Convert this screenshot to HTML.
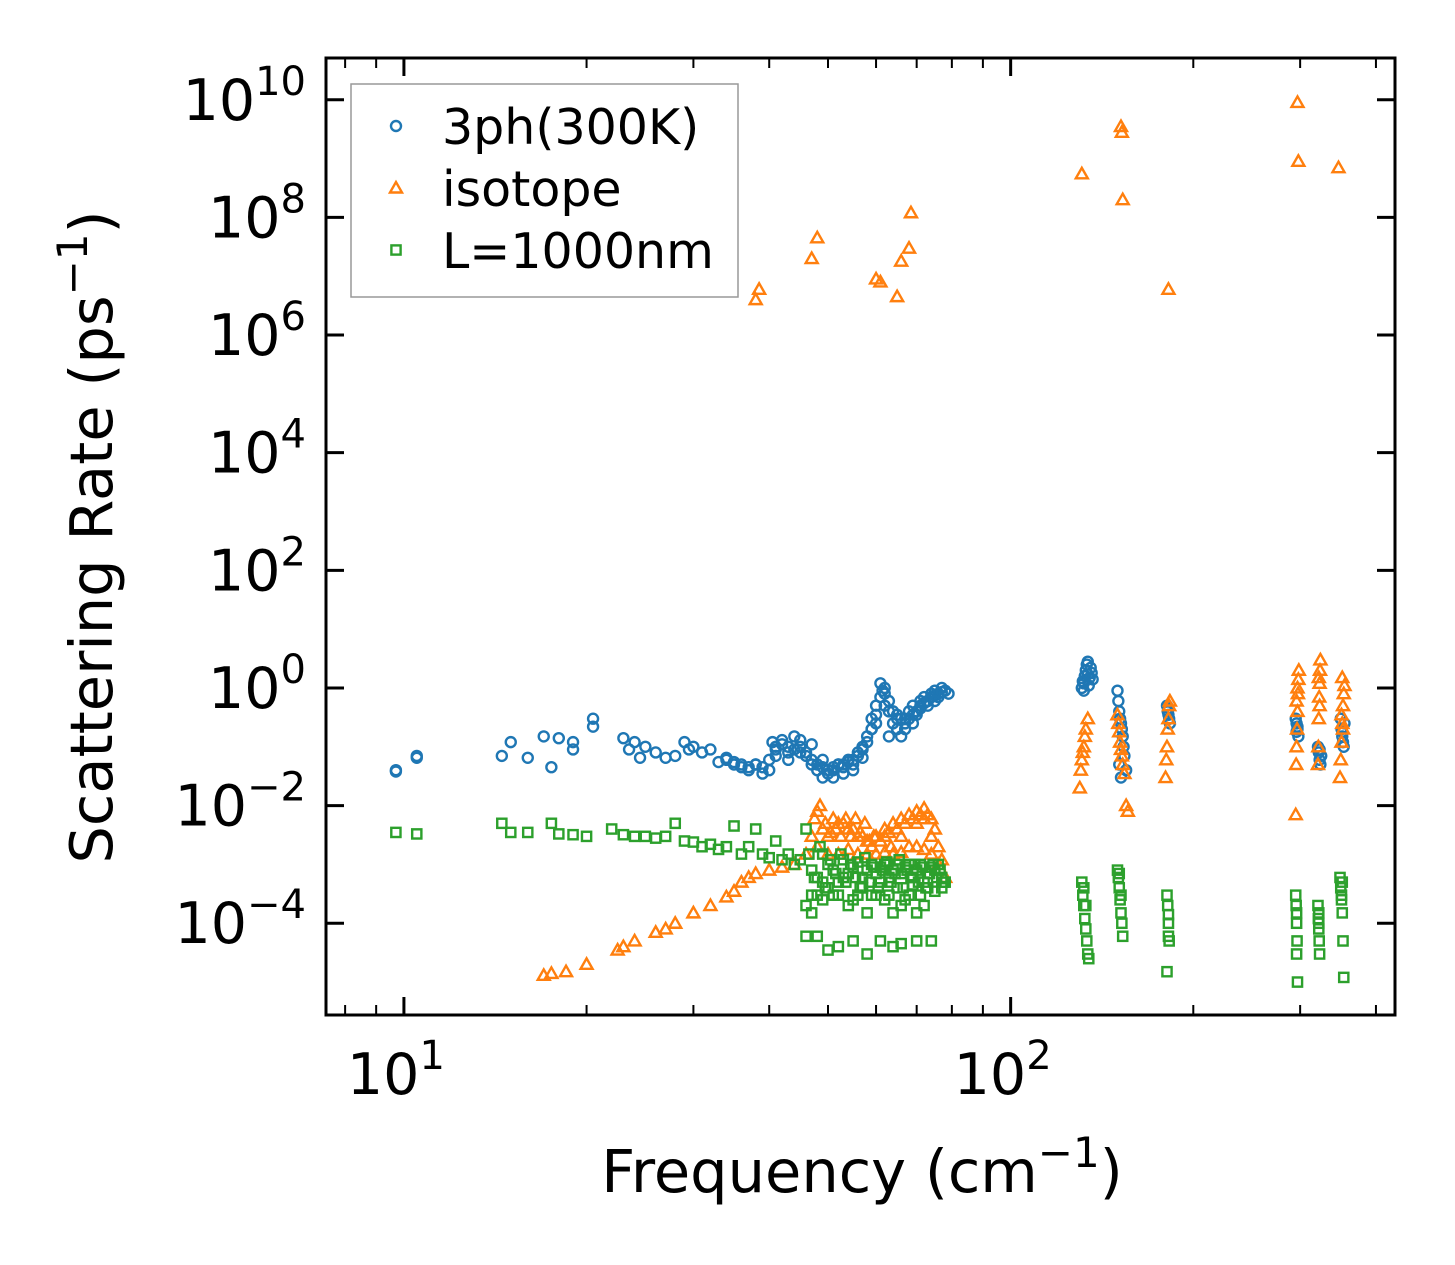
<!DOCTYPE html>
<html><head><meta charset="utf-8"><style>
html,body{margin:0;padding:0;background:#fff;}
svg{display:block;font-family:"DejaVu Sans","Liberation Sans",sans-serif;}
</style></head><body>
<svg id="chart" width="1455" height="1265" viewBox="0 0 1455 1265" xmlns="http://www.w3.org/2000/svg">
<g id="marks"></g>
<g id="axes"></g>
<g id="legend"></g>
</svg>
<script>
// ---- data ----
const ph3X=[9.7,9.7,10.5,10.5,14.5,15,16,17,17.5,18,19,19,20.5,20.5,23,23.5,24,24.5,25,26,27,28,29,29.5,30,31,32,33,34,35,36,37,38,39,40,40.5,41,42,43,44,45,46,47,48,49,50,51,52,53,54,55,56,57,58,59,60,61,61.5,62,63,64,65,66,67,68,69,70,71,72,73,74,75,76,77,78,79,
34,35,36,37,38,39,40,41,42,43,44,45,46,47,48,49,50,51,52,53,54,55,56,57,58,59,60,61,62,63,64,65,66,67,68,69,70,71,72,73,74,75,76,77,
41,43,45,47,49,51,53,55,57,59,60,62,63,65,67,69,71,73,75,
131,131.5,132,132.5,133,133.5,134,134.5,135,135.5,136,136.5,132,134,
150,150.5,151,151.5,152,152.5,153,153.5,154,155,151,152,
181,181.5,182,182.5,183,182,
295,296,297,298,296,297,
321,322,323,324,325,323,
350,351,352,353,354,355,352];
const ph3Y=[0.04,0.038,0.07,0.065,0.07,0.12,0.065,0.15,0.045,0.14,0.09,0.12,0.3,0.22,0.14,0.09,0.12,0.065,0.1,0.08,0.065,0.07,0.12,0.09,0.1,0.08,0.09,0.055,0.065,0.05,0.045,0.04,0.05,0.035,0.04,0.12,0.1,0.13,0.08,0.15,0.1,0.08,0.05,0.04,0.03,0.035,0.04,0.05,0.035,0.06,0.05,0.08,0.1,0.15,0.3,0.5,1.2,0.9,0.8,0.4,0.25,0.2,0.15,0.3,0.4,0.5,0.35,0.6,0.7,0.5,0.8,0.9,0.7,1.0,0.9,0.8,
0.06,0.055,0.05,0.045,0.05,0.045,0.06,0.09,0.11,0.1,0.09,0.08,0.07,0.06,0.05,0.045,0.04,0.045,0.05,0.05,0.055,0.06,0.07,0.09,0.12,0.2,0.35,0.7,1.0,0.6,0.4,0.3,0.3,0.25,0.3,0.35,0.4,0.5,0.55,0.6,0.7,0.75,0.8,0.85,
0.07,0.06,0.13,0.11,0.06,0.03,0.045,0.04,0.065,0.2,0.25,0.5,0.15,0.35,0.2,0.25,0.45,0.6,0.6,
1.0,1.3,1.2,1.6,2.0,2.5,2.8,1.1,1.5,2.2,1.8,1.4,0.9,1.7,
0.9,0.6,0.4,0.3,0.25,0.2,0.15,0.1,0.07,0.04,0.05,0.03,
0.5,0.4,0.35,0.3,0.25,0.45,
0.3,0.25,0.2,0.15,0.18,0.22,
0.1,0.08,0.06,0.05,0.07,0.09,
0.3,0.2,0.15,0.12,0.1,0.25,0.18];
const isoX=[38,38.5,47,48,60,61,65,66,68,68.5,131,152,152.5,153,182,297,298,347,
17,17.5,18.5,20,22.5,23,24,26,27,28,30,32,34,35,36,37,38,40,42,44,46,47,48,49,50,52,54,56,58,60,62,64,66,68,70,72,74,76,78,
47.5,48.5,49.5,50.5,51,51.5,52.5,53,53.5,54.5,55,55.5,56.5,57,57.5,58.5,59,59.5,61,62,63,63.5,65,66,67,69,70,71,72,73,74,75,76,77,
48,50,52,54,56,58,60,62,64,66,68,70,72,74,
130,130.5,131,131.5,132,132.5,133,134,
150,150.5,151,151.5,152,152.5,153,154,155,156,
180,180.5,181,181.5,182,182.5,183,
295,295.5,296,296.5,297,297.5,298,298.5,296,297,
321,321.5,322,322.5,323,323.5,324,322,323,
349,350,351,352,353,354,355,352,351,353];
const isoY=[4e6,6e6,2e7,4.5e7,9e6,8e6,4.5e6,1.8e7,3e7,1.2e8,5.5e8,3.5e9,2.8e9,2e8,6e6,9e9,9e8,7e8,
1.3e-5,1.4e-5,1.5e-5,2e-5,3.5e-5,4e-5,5e-5,7e-5,8e-5,1e-4,1.5e-4,2e-4,2.8e-4,3.5e-4,5e-4,6e-4,7e-4,8e-4,9e-4,1e-3,1.5e-3,3e-3,8e-3,4e-3,3e-3,5e-3,4e-3,3e-3,2.5e-3,3e-3,4e-3,5e-3,6e-3,7e-3,8e-3,6e-3,3e-3,1e-3,6e-4,
6e-3,1e-2,5e-3,3.5e-3,6e-3,4e-3,3e-3,5e-3,6e-3,3e-3,4e-3,6e-3,3.5e-3,3e-3,5e-3,2.5e-3,2e-3,3e-3,2.5e-3,3e-3,3.5e-3,2e-3,4e-3,3e-3,5e-3,6e-3,5e-3,7e-3,9e-3,7e-3,6e-3,4e-3,2e-3,1.2e-3,
2e-3,1.5e-3,1.5e-3,1.8e-3,1.5e-3,1.5e-3,1.5e-3,1.6e-3,1.5e-3,1.6e-3,2e-3,2e-3,1.8e-3,1.5e-3,
0.02,0.04,0.06,0.08,0.1,0.15,0.2,0.3,
0.35,0.25,0.18,0.12,0.09,0.07,0.05,0.035,0.01,0.008,
0.03,0.06,0.1,0.2,0.3,0.5,0.6,
0.007,0.05,0.1,0.2,0.4,0.8,1.4,2.0,0.6,1.0,
0.05,0.1,0.3,0.7,1.2,2.0,3.0,1.5,0.5,
0.03,0.06,0.12,0.25,0.5,0.8,1.1,1.5,0.35,0.2];
const lenX=[9.7,10.5,14.5,15,16,17.5,18,19,20,22,23,24,25,26,27,28,29,30,31,32,33,34,35,36,37,38,39,40,41,42,43,44,45,46,47,48,49,50,51,52,53,54,55,56,57,58,59,60,61,62,63,64,65,66,67,68,69,70,71,72,73,74,75,76,77,78,
46,47,48,49,50,52,54,56,58,60,62,64,66,68,70,72,
46,48,50,52,55,58,61,64,66,70,74,
46.5,47.5,48.5,49.5,50.5,51.5,52.5,53.5,54.5,55.5,56.5,57.5,58.5,59.5,60.5,61.5,62.5,63.5,64.5,65.5,66.5,67.5,68.5,69.5,70.5,71.5,72.5,73.5,74.5,75.5,76.5,77.5,
47,49,51,53,55,57,59,61,63,65,67,69,71,73,75,77,
131,131.5,132,132.5,133,133.5,134,134.5,132,133,
150,150.5,151,151.5,152,152.5,153,151,152,
181,181.5,182,182.5,181,182,182,
295,295.5,296,296.5,297,296,296,
321,321.5,322,322.5,323,322,322,
349,350,351,352,353,354,351,352];
const lenY=[3.5e-3,3.3e-3,5e-3,3.5e-3,3.5e-3,5e-3,3.3e-3,3.2e-3,3e-3,4e-3,3.2e-3,3e-3,3e-3,2.8e-3,3e-3,5e-3,2.5e-3,2.4e-3,2e-3,2.2e-3,1.8e-3,2e-3,4.5e-3,1.5e-3,2e-3,4e-3,1.5e-3,1.3e-3,2.5e-3,1.2e-3,1.5e-3,1e-3,1.2e-3,4e-3,8e-4,6e-4,1.5e-3,1e-3,8e-4,5e-4,1.2e-3,7e-4,9e-4,1.1e-3,6e-4,8e-4,1e-3,7e-4,9e-4,1e-3,6e-4,8e-4,1e-3,7e-4,9e-4,1e-3,6e-4,8e-4,1e-3,5e-4,7e-4,9e-4,8e-4,1e-3,6e-4,5e-4,
2e-4,1.5e-4,3e-4,2.5e-4,4e-4,3e-4,2e-4,3e-4,1.5e-4,3e-4,2.5e-4,1.5e-4,2e-4,3e-4,1.5e-4,2e-4,
6e-5,6e-5,3.5e-5,4e-5,5e-5,3e-5,5e-5,4e-5,4.5e-5,5e-5,5e-5,
1.5e-3,6e-4,2e-3,4e-4,1.2e-3,7e-4,1.5e-3,5e-4,1e-3,6e-4,4e-4,1.3e-3,5e-4,9e-4,4e-4,8e-4,1.1e-3,5e-4,7e-4,1.2e-3,4e-4,8e-4,6e-4,1e-3,5e-4,9e-4,4e-4,7e-4,1e-3,6e-4,8e-4,5e-4,
3e-4,5e-4,3e-4,6e-4,2.5e-4,4e-4,3e-4,5e-4,3e-4,4e-4,2.5e-4,4.5e-4,3e-4,4e-4,3.5e-4,4e-4,
5e-4,3e-4,2e-4,1.2e-4,8e-5,5e-5,3e-5,2.5e-5,4e-4,2e-4,
8e-4,6e-4,4e-4,2.5e-4,1.5e-4,1e-4,6e-5,7e-4,3e-4,
3e-4,2e-4,1e-4,5e-5,1.5e-5,6e-5,1.4e-4,
3e-4,2e-4,1e-4,5e-5,1e-5,3e-5,1.5e-4,
2e-4,1.2e-4,8e-5,5e-5,3e-5,1e-4,1.5e-4,
6e-4,4e-4,2.5e-4,1.5e-4,5e-5,1.2e-5,3e-4,5e-4];
const xTicks=[10,100];
const xTickLabels=["1","2"];
const xMinor=[8,9,20,30,40,50,60,70,80,90,200,300,400];
const yTicks=[1e-4,1e-2,1,1e2,1e4,1e6,1e8,1e10];
const yTickLabels=["−4","−2","0","2","4","6","8","10"];

// ---- scales ----
const L=326,R=1395,T=58,B=1015;
const xLo=Math.log10(7.44),xHi=Math.log10(430);
const yLo=-5.56,yHi=10.71;
function sx(v){return L+(Math.log10(v)-xLo)/(xHi-xLo)*(R-L);}
function sy(v){return B-(Math.log10(v)-yLo)/(yHi-yLo)*(B-T);}
const NS="http://www.w3.org/2000/svg";
function mk(tag,attrs,parent){const e=document.createElementNS(NS,tag);for(const k in attrs)e.setAttribute(k,attrs[k]);parent.appendChild(e);return e;}
const marks=document.getElementById('marks');
const C1="#1f77b4",C2="#ff7f0e",C3="#2ca02c";
function circ(x,y,p){return mk('circle',{cx:x,cy:y,r:5,fill:'none',stroke:C1,'stroke-width':2.4},p);}
function tri(x,y,p){const s=6;return mk('polygon',{points:`${x},${y-s} ${x-s},${y+s*0.75} ${x+s},${y+s*0.75}`,fill:'none',stroke:C2,'stroke-width':2.4},p);}
function sq(x,y,p){return mk('rect',{x:x-4.6,y:y-4.6,width:9.2,height:9.2,fill:'none',stroke:C3,'stroke-width':2.4},p);}
const g1=mk('g',{},marks);
ph3X.forEach((v,i)=>{const e=circ(sx(v),sy(ph3Y[i]),g1);

});
const g2=mk('g',{},marks);
isoX.forEach((v,i)=>{const e=tri(sx(v),sy(isoY[i]),g2);

});
const g3=mk('g',{},marks);
lenX.forEach((v,i)=>{const e=sq(sx(v),sy(lenY[i]),g3);

});

// ---- axes ----
const ax=document.getElementById('axes');
const fr=mk('rect',{x:L,y:T,width:R-L,height:B-T,fill:'none',stroke:'#000','stroke-width':3},ax);


xTicks.forEach((v,i)=>{const x=sx(v);
mk('line',{x1:x,y1:B,x2:x,y2:B-18,stroke:'#000','stroke-width':3},ax);
mk('line',{x1:x,y1:T,x2:x,y2:T+18,stroke:'#000','stroke-width':3},ax);
const t=mk('text',{x:x-8,y:1094,'font-size':57,'text-anchor':'middle'},ax);


t.innerHTML='10<tspan dy="-25" font-size="40">'+xTickLabels[i]+'</tspan>';});
xMinor.forEach(v=>{const x=sx(v);
mk('line',{x1:x,y1:B,x2:x,y2:B-10,stroke:'#000','stroke-width':2},ax);
mk('line',{x1:x,y1:T,x2:x,y2:T+10,stroke:'#000','stroke-width':2},ax);});
yTicks.forEach((v,i)=>{const y=sy(v);
mk('line',{x1:L,y1:y,x2:L+18,y2:y,stroke:'#000','stroke-width':3},ax);
mk('line',{x1:R,y1:y,x2:R-18,y2:y,stroke:'#000','stroke-width':3},ax);
const t=mk('text',{x:306,y:y+20,'font-size':57,'text-anchor':'end'},ax);


t.innerHTML='10<tspan dy="-25" font-size="40">'+yTickLabels[i]+'</tspan>';});
const xl=mk('text',{x:862,y:1192,'font-size':59,'text-anchor':'middle'},ax);


xl.innerHTML='Frequency (cm<tspan dy="-25" font-size="42">−1</tspan><tspan dy="25">)</tspan>';
const yl=mk('text',{x:0,y:0,'font-size':59,'text-anchor':'middle',transform:'translate(112,537) rotate(-90)'},ax);


yl.innerHTML='Scattering Rate (ps<tspan dy="-25" font-size="42">−1</tspan><tspan dy="25">)</tspan>';

// ---- legend ----
const lg=document.getElementById('legend');
mk('rect',{x:351,y:84,width:387,height:213,fill:'#fff',stroke:'#999','stroke-width':1.5},lg);
const items=[["3ph(300K)",circ],["isotope",tri],["L=1000nm",sq]];
items.forEach((it,i)=>{const y=126+i*62;
const g=mk('g',{},lg);


it[1](396,y,g);
const t=mk('text',{x:442,y:y+18,'font-size':49},g);t.textContent=it[0];});
</script>
</body></html>
